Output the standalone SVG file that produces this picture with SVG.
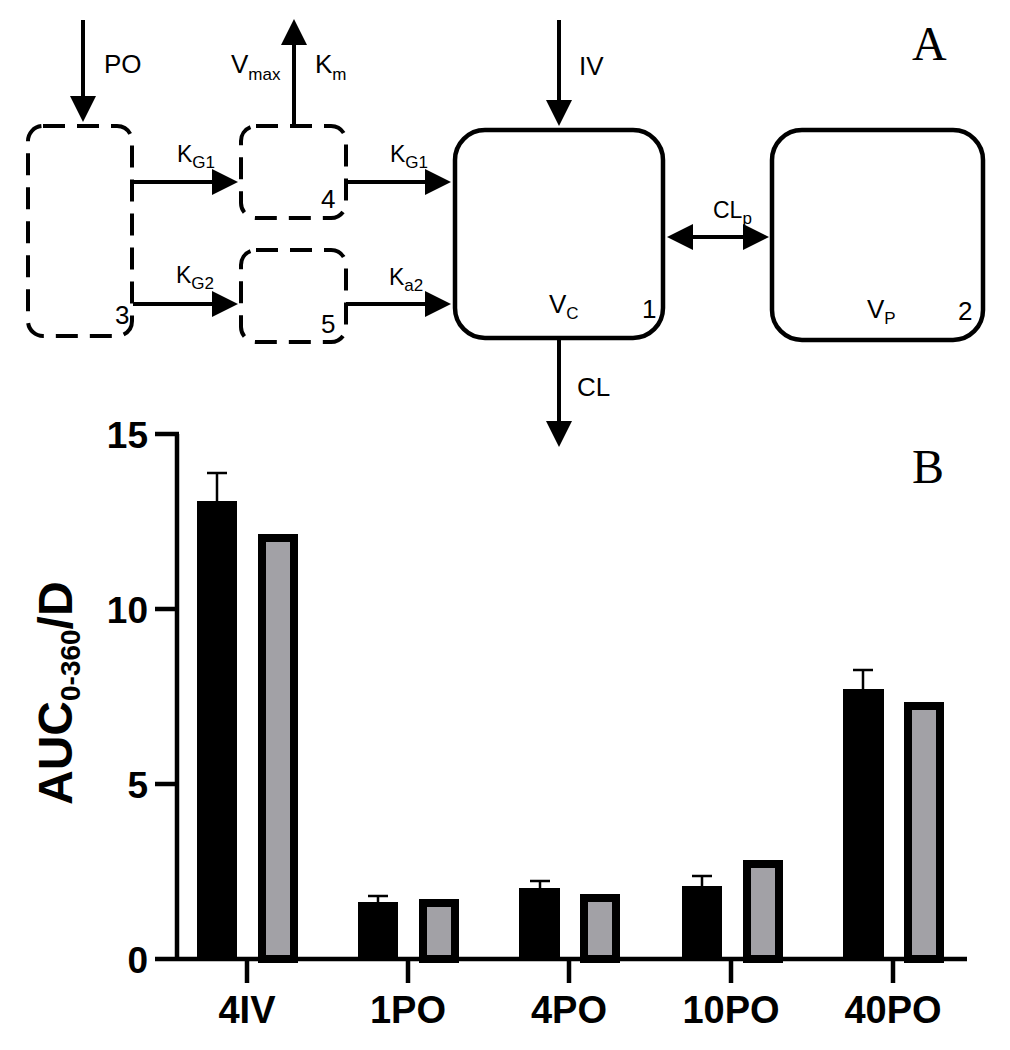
<svg xmlns="http://www.w3.org/2000/svg" width="1010" height="1050" viewBox="0 0 1010 1050">
<style>
.dash{fill:none;stroke:#000;stroke-width:4;stroke-dasharray:22 12}
.solid{fill:none;stroke:#000;stroke-width:4.5}
.conn{stroke:#000;stroke-width:4;fill:none}
.lbl{font-family:"Liberation Sans",Arial,sans-serif;font-size:26px;fill:#000}
.k{font-size:23px}
.sub{font-size:17px}
.panel{font-family:"Liberation Serif","Times New Roman",serif;font-size:48px;fill:#000}
.axis{stroke:#000;stroke-width:4.5;fill:none}
.blk{fill:#000}
.gry{fill:#a2a1a6;stroke:#000;stroke-width:8}
.err{stroke:#000;stroke-width:2.5;fill:none}
.tick{font-family:"Liberation Sans",Arial,sans-serif;font-weight:bold;font-size:37px;fill:#000}
.cat{font-family:"Liberation Sans",Arial,sans-serif;font-weight:bold;font-size:38px;fill:#000;text-anchor:middle}
</style>
<defs>
<marker id="ah" markerUnits="userSpaceOnUse" markerWidth="26" markerHeight="26" viewBox="0 0 26 26" refX="1" refY="13" orient="auto-start-reverse">
<path d="M0,0 L26,13 L0,26 Z" fill="#000"/>
</marker>
</defs>

<text class="panel" x="912" y="60">A</text>

<g id="node3">
<rect class="dash" x="28" y="126" width="104" height="210" rx="15"/>
<text class="lbl" x="115" y="324">3</text>
</g>
<g id="node4">
<rect class="dash" x="241" y="126" width="105" height="92" rx="15"/>
<text class="lbl" x="321" y="208">4</text>
</g>
<g id="node5">
<rect class="dash" x="241" y="250" width="105" height="92" rx="15"/>
<text class="lbl" x="321" y="333">5</text>
</g>
<g id="node1">
<rect class="solid" x="455" y="130" width="208" height="208" rx="30"/>
<text class="lbl" x="549" y="313">V<tspan class="sub" dy="6">C</tspan></text>
<text class="lbl" x="642" y="318">1</text>
</g>
<g id="node2">
<rect class="solid" x="772" y="130" width="211" height="210" rx="30"/>
<text class="lbl" x="867" y="318">V<tspan class="sub" dy="6">P</tspan></text>
<text class="lbl" x="958" y="320">2</text>
</g>

<g id="connectors">
<line class="conn" x1="83" y1="20" x2="83" y2="97" marker-end="url(#ah)"/>
<line class="conn" x1="294" y1="126" x2="294" y2="44" marker-end="url(#ah)"/>
<line class="conn" x1="559" y1="20" x2="559" y2="101" marker-end="url(#ah)"/>
<line class="conn" x1="133" y1="182" x2="213" y2="182" marker-end="url(#ah)"/>
<line class="conn" x1="133" y1="304" x2="213" y2="304" marker-end="url(#ah)"/>
<line class="conn" x1="346" y1="182" x2="426" y2="182" marker-end="url(#ah)"/>
<line class="conn" x1="346" y1="304" x2="426" y2="304" marker-end="url(#ah)"/>
<line class="conn" x1="692" y1="237" x2="744" y2="237" marker-start="url(#ah)" marker-end="url(#ah)"/>
<line class="conn" x1="559" y1="340" x2="559" y2="422" marker-end="url(#ah)"/>
<text class="lbl" x="104" y="73">PO</text>
<text class="lbl" x="579" y="75">IV</text>
<text class="lbl" x="231" y="73">V<tspan class="sub" dy="7">max</tspan></text>
<text class="lbl" x="315" y="73">K<tspan class="sub" dy="7">m</tspan></text>
<text class="lbl k" x="177" y="162">K<tspan class="sub" dy="6">G1</tspan></text>
<text class="lbl k" x="176" y="283">K<tspan class="sub" dy="6">G2</tspan></text>
<text class="lbl k" x="390" y="162">K<tspan class="sub" dy="6">G1</tspan></text>
<text class="lbl k" x="389" y="285">K<tspan class="sub" dy="6">a2</tspan></text>
<text class="lbl k" x="713" y="218">CL<tspan class="sub" dy="6">p</tspan></text>
<text class="lbl" x="577" y="396">CL</text>
</g>

<text class="panel" x="912" y="483">B</text>

<g id="chart">
<g id="bars">
<rect class="blk" x="197" y="501" width="40" height="458"/>
<path class="err" d="M217,501 V473 M207,473 H227"/>
<rect class="gry" x="262" y="538" width="32" height="421"/>

<rect class="blk" x="358" y="902" width="40" height="57"/>
<path class="err" d="M378,902 V896 M368,896 H388"/>
<rect class="gry" x="423" y="903" width="32" height="56"/>

<rect class="blk" x="519" y="888" width="41" height="71"/>
<path class="err" d="M540,888 V881 M530,881 H550"/>
<rect class="gry" x="584" y="898" width="32" height="61"/>

<rect class="blk" x="682" y="886" width="40" height="73"/>
<path class="err" d="M702,886 V876 M692,876 H712"/>
<rect class="gry" x="747" y="864" width="32" height="95"/>

<rect class="blk" x="843" y="689" width="41" height="270"/>
<path class="err" d="M863,689 V670 M853,670 H873"/>
<rect class="gry" x="908" y="706" width="32" height="253"/>
</g>
<g id="axes">
<path class="axis" d="M177,434 V961"/>
<path class="axis" d="M155,434 H179 M155,609 H177 M155,784 H177"/>
<path class="axis" stroke-width="5" d="M155,959 H967"/>
<path class="axis" stroke-width="5" d="M247,959 V983 M408,959 V983 M569,959 V983 M731,959 V983 M893,959 V983"/>
<text class="tick" x="148" y="448" text-anchor="end">15</text>
<text class="tick" x="148" y="623" text-anchor="end">10</text>
<text class="tick" x="148" y="798" text-anchor="end">5</text>
<text class="tick" x="148" y="973" text-anchor="end">0</text>
<text class="cat" x="247" y="1023">4IV</text>
<text class="cat" x="408" y="1023">1PO</text>
<text class="cat" x="569" y="1023">4PO</text>
<text class="cat" x="731" y="1023">10PO</text>
<text class="cat" x="893" y="1023">40PO</text>
<text transform="translate(72,805) rotate(-90)" font-family="Liberation Sans, Arial, sans-serif" font-weight="bold" font-size="48">AUC<tspan font-size="28" dy="8">0-360</tspan><tspan dy="-8">/D</tspan></text>
</g>
</g>
</svg>
